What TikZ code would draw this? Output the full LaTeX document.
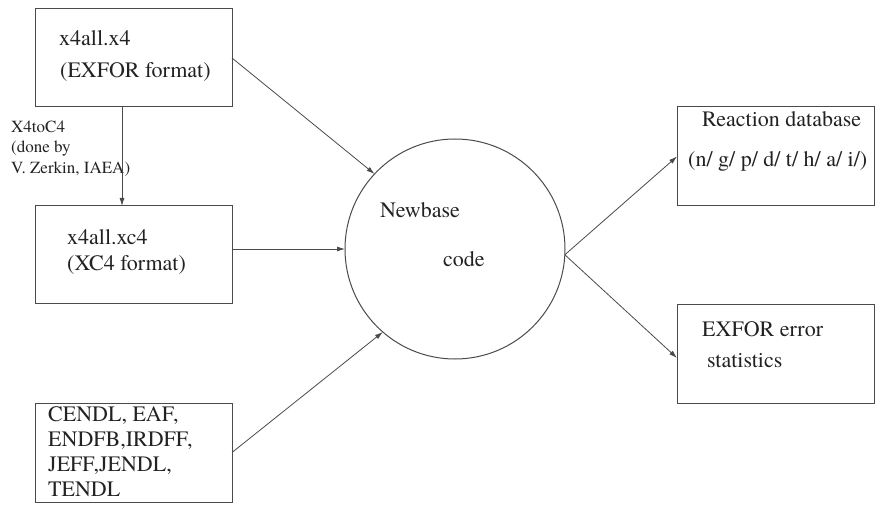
\documentclass[tikz,border=0pt]{standalone}
\usepackage{fontspec}
\setmainfont{TeX Gyre Termes}
\usetikzlibrary{arrows.meta,calc}
\definecolor{ink}{HTML}{222222}
\definecolor{wire}{HTML}{4A4A4A}
\begin{document}
\begin{tikzpicture}[x=1pt,y=-1pt,
  box/.style={draw=wire,line width=1pt,minimum width=197pt,minimum height=98pt,inner sep=0pt,outer sep=0pt},
  hub/.style={draw=wire,line width=1pt,circle,minimum size=220pt,inner sep=0pt,outer sep=0pt},
  txt/.style={anchor=base west,inner sep=0pt,text=ink,font=\fontsize{22}{25}\selectfont},
  small/.style={anchor=base west,inner sep=0pt,text=ink,font=\fontsize{17}{21}\selectfont},
  flow/.style={draw=wire,line width=0.8pt,-{Latex[length=8pt,width=5pt]}}]
  \useasboundingbox[fill=white] (0,0) rectangle (876,505);

  % boxes and the central circle
  \node[box] (x4) at (133.5,58) {};
  \node[box] (xc4) at (133.5,255) {};
  \node[box,minimum height=99pt] (lib) at (133.5,452.5) {};
  \node[hub] (nb) at (455,249) {};
  \node[box,minimum height=99pt] (rdb) at (775.5,156.5) {};
  \node[box] (err) at (775.5,354) {};

  % box texts
  \node[txt] (t1) at (59,46) {x4all.x4};
  \node[txt] (t2) at (60,78) {(EXFOR format)};
  \node[txt] (t3) at (67,245) {x4all.xc4};
  \node[txt] (t4) at (67,271) {(XC4 format)};
  \node[txt] (t5) at (48,421) {CENDL, EAF,};
  \node[txt] (t6) at (48,446) {ENDFB,IRDFF,};
  \node[txt] (t7) at (48,471) {JEFF,JENDL,};
  \node[txt] (t8) at (48,496) {TENDL};
  \node[txt] (t9) at (380,218) {Newbase};
  \node[txt] (t10) at (443,267) {code};
  \node[txt] (t11) at (702,127) {Reaction database};
  \node[txt] (t12) at (688,167) {(n/ g/ p/ d/ t/ h/ a/ i/)};
  \node[txt] (t13) at (702,337) {EXFOR error};
  \node[txt] (t14) at (707,367) {statistics};

  % conversion label
  \node[small] (l1) at (11,133) {X4toC4};
  \node[small] (l2) at (11,153) {(done by};
  \node[small] (l3) at (11,174) {V. Zerkin, IAEA)};

  % connectors
  \draw[flow] ([xshift=-11.5pt]x4.south) -- ([xshift=-11.5pt]xc4.north);
  \draw[flow] (x4.east) -- (nb.137.6);
  \draw[flow] (xc4.east |- nb.west) -- (nb.west);
  \draw[flow] (lib.east) -- (nb.229.6);
  \draw[flow] (nb.-3) -- (rdb.west);
  \draw[flow] (nb.-3) -- ([yshift=-4pt]err.west);
\end{tikzpicture}
\end{document}
